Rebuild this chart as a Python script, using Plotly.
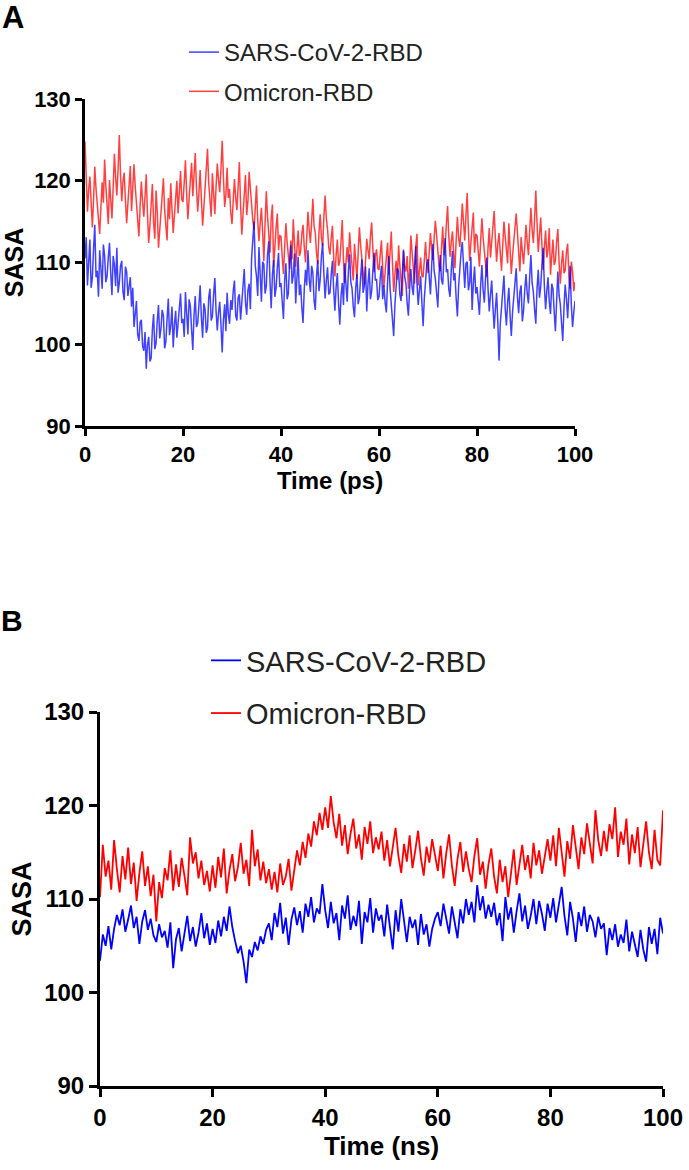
import plotly.graph_objects as go

# ---------------- data ----------------
# Panel A: SASA vs time (ps), one value every 0.25 ps
a_sars = [
    110.5, 113.1, 107.2, 109.9, 112.8, 106.9, 108.1, 111.7, 114.6, 108.2, 109.0, 105.8, 111.5, 109.3, 106.8, 112.2, 110.9, 107.6, 108.3, 110.6,
    112.4, 108.7, 106.0, 110.8, 109.7, 107.1, 111.8, 106.3, 107.5, 109.6, 110.2, 106.4, 105.4, 109.5, 108.9, 105.9, 107.0, 108.2, 104.6, 106.9,
    102.1, 104.4, 105.3, 101.2, 100.4, 102.7, 103.0, 99.8, 99.2, 101.5, 97.0, 99.9, 100.9, 97.9, 98.3, 101.8, 103.7, 99.4, 100.1, 102.9,
    104.8, 100.7, 101.9, 104.2, 103.5, 99.5, 100.3, 103.1, 105.6, 101.1, 102.2, 104.6, 99.6, 102.4, 104.1, 100.8, 102.8, 105.1, 106.2, 102.6,
    103.1, 100.9, 106.4, 103.8, 101.2, 105.5, 104.7, 101.8, 99.3, 103.6, 105.9, 102.1, 102.6, 104.8, 107.2, 103.3, 100.8, 105.0, 104.3, 101.4,
    102.0, 105.7, 106.8, 102.9, 103.4, 106.1, 108.1, 104.0, 101.7, 103.9, 105.2, 102.3, 99.0, 103.0, 104.9, 101.6, 106.3, 103.7, 102.5, 105.4,
    104.2, 106.5, 107.8, 103.5, 102.9, 105.7, 106.1, 103.0, 104.9, 107.5, 109.2, 105.1, 103.6, 106.6, 107.4, 104.3, 110.5, 112.8, 115.0, 109.6,
    108.3, 105.9, 111.9, 108.6, 105.2, 110.1, 109.8, 106.2, 107.1, 110.9, 112.6, 107.7, 104.4, 108.5, 110.3, 105.8, 106.9, 109.4, 111.2, 107.0,
    107.5, 105.2, 103.1, 107.9, 109.9, 105.5, 106.2, 110.0, 112.1, 107.4, 108.4, 111.1, 105.0, 108.1, 110.7, 106.0, 107.3, 104.5, 102.6, 106.8,
    109.1, 107.2, 111.5, 108.0, 106.4, 109.6, 108.8, 105.3, 104.2, 108.3, 110.3, 106.5, 107.9, 110.8, 112.4, 108.6, 105.6, 107.8, 109.4, 106.1,
    106.3, 108.5, 110.2, 106.7, 104.1, 107.0, 108.7, 105.0, 102.4, 105.9, 107.5, 104.8, 109.9, 107.3, 105.2, 108.9, 111.0, 107.6, 106.8, 104.6,
    103.3, 106.9, 108.6, 104.9, 105.7, 108.2, 110.4, 106.3, 107.1, 109.5, 104.0, 107.4, 109.3, 105.5, 106.5, 109.0, 111.2, 107.8, 108.0, 105.4,
    105.8, 108.1, 109.6, 105.5, 107.2, 105.1, 103.9, 107.6, 110.8, 106.9, 104.6, 102.8, 101.0, 104.9, 106.7, 109.3, 108.9, 106.1, 105.3, 108.7,
    111.6, 108.2, 107.4, 105.0, 103.5, 106.8, 109.2, 107.0, 106.0, 109.4, 112.0, 107.5, 104.8, 106.6, 108.3, 105.2, 102.2, 105.6, 107.7, 109.8,
    110.4, 108.2, 106.1, 109.7, 112.3, 109.0, 108.0, 106.3, 104.5, 108.4, 110.9, 107.9, 107.3, 110.5, 113.0, 108.8, 109.2, 106.7, 105.8, 109.1,
    111.4, 107.8, 108.7, 105.6, 103.4, 107.1, 109.8, 111.3, 112.5, 108.5, 106.9, 109.9, 110.1, 106.6, 107.6, 110.7, 104.2, 107.4, 109.5, 106.2,
    107.0, 105.3, 103.6, 107.3, 109.7, 106.6, 105.1, 108.2, 110.6, 106.8, 104.0, 106.1, 107.8, 104.6, 101.9, 104.3, 106.3, 102.7, 98.0, 102.5,
    104.7, 106.6, 108.4, 104.4, 102.3, 105.1, 106.9, 103.5, 101.0, 103.9, 105.5, 107.6, 109.3, 105.8, 103.8, 106.4, 107.2, 102.8, 104.1, 106.7,
    108.6, 106.2, 105.0, 108.3, 110.9, 107.5, 106.4, 104.3, 102.5, 106.8, 109.1, 105.7, 107.0, 109.7, 111.8, 107.1, 104.3, 106.5, 108.2, 105.2,
    103.7, 107.4, 106.8, 104.0, 101.6, 105.3, 108.9, 106.0, 104.9, 102.6, 100.4, 104.5, 107.3, 105.6, 103.2, 106.2, 109.6, 104.8, 102.1, 103.9,
    105.3,
]

a_omicron = [
    124.8, 119.6, 116.2, 118.9, 120.5, 117.4, 114.3, 117.8, 121.7, 119.0, 117.0, 115.2, 113.5, 116.8, 119.8, 117.3, 122.6, 119.4, 116.9, 114.7,
    120.1, 117.7, 115.4, 119.2, 123.3, 120.4, 118.2, 121.4, 125.6, 120.7, 117.5, 119.9, 121.0, 117.6, 114.8, 117.2, 119.6, 121.8, 116.3, 118.7,
    122.0, 119.3, 117.1, 115.0, 113.2, 116.9, 119.9, 117.5, 115.6, 118.1, 120.8, 115.9, 112.4, 114.6, 117.3, 119.6, 114.9, 112.9, 118.8, 116.2,
    111.8, 114.0, 116.5, 118.6, 120.3, 116.4, 114.2, 112.7, 117.9, 115.3, 119.7, 116.6, 113.6, 115.8, 118.4, 120.0, 116.0, 118.0, 121.2, 117.7,
    117.4, 119.8, 122.5, 118.3, 115.3, 117.9, 120.6, 122.2, 118.1, 120.3, 123.4, 119.1, 116.2, 118.5, 121.3, 117.8, 114.5, 116.7, 119.5, 121.9,
    123.9, 119.7, 117.6, 115.6, 120.9, 118.4, 115.9, 119.3, 122.1, 120.1, 118.6, 121.5, 124.9, 120.5, 116.8, 118.2, 121.6, 117.9, 119.0, 116.1,
    114.7, 117.6, 120.2, 118.0, 116.4, 119.3, 122.3, 117.0, 113.4, 115.9, 118.5, 120.7, 115.8, 117.5, 121.1, 118.9, 117.2, 115.1, 114.0, 117.7,
    119.4, 115.2, 112.6, 114.8, 116.7, 113.8, 110.2, 114.9, 118.7, 115.7, 113.1, 111.2, 115.5, 117.1, 109.4, 112.8, 114.3, 116.0, 111.5, 113.3,
    113.2, 110.7, 108.6, 112.0, 114.8, 112.5, 110.9, 109.2, 112.7, 110.4, 115.3, 112.2, 109.5, 111.6, 113.9, 110.8, 111.3, 113.5, 114.6, 111.9,
    110.0, 113.1, 116.2, 114.0, 112.4, 115.0, 117.8, 114.4, 113.6, 111.1, 109.8, 113.7, 115.9, 113.0, 112.0, 115.6, 118.2, 115.4, 114.1, 111.8,
    111.0, 113.0, 114.5, 110.6, 108.3, 110.9, 112.8, 109.6, 110.1, 112.6, 115.2, 110.3, 107.5, 109.9, 111.9, 110.0, 113.7, 111.4, 109.4, 107.8,
    112.3, 110.5, 108.0, 111.2, 114.3, 112.1, 110.7, 108.9, 107.3, 110.2, 112.9, 111.5, 110.4, 113.2, 114.9, 111.7, 108.8, 110.8, 111.6, 109.3,
    109.1, 111.0, 112.7, 109.3, 107.0, 108.8, 110.9, 112.4, 108.5, 110.7, 113.8, 109.9, 106.4, 108.6, 110.2, 107.9, 112.1, 109.7, 107.7, 105.9,
    111.4, 109.5, 108.9, 110.8, 106.8, 109.0, 113.3, 111.1, 109.6, 107.4, 111.9, 113.5, 107.2, 109.2, 110.6, 108.4, 108.2, 110.3, 112.5, 109.8,
    108.7, 111.3, 113.6, 111.7, 110.3, 112.9, 115.1, 113.4, 111.5, 109.6, 108.9, 112.2, 114.4, 110.9, 112.0, 114.7, 116.9, 113.1, 110.7, 112.6,
    113.8, 111.0, 109.3, 112.8, 115.6, 113.0, 111.9, 114.3, 117.2, 114.9, 112.7, 115.8, 118.5, 113.9, 110.2, 112.4, 114.0, 116.1, 111.2, 113.5,
    113.3, 111.6, 109.5, 112.7, 115.4, 113.0, 111.0, 109.7, 108.2, 111.8, 114.2, 110.6, 112.5, 114.5, 116.3, 112.9, 110.1, 112.3, 113.6, 111.2,
    109.0, 112.1, 115.0, 113.2, 111.7, 109.9, 114.8, 112.4, 108.6, 110.8, 112.9, 114.6, 116.0, 113.7, 110.5, 108.9, 113.1, 111.4, 109.8, 112.0,
    114.6, 112.5, 110.9, 113.8, 116.7, 114.0, 112.4, 115.3, 118.8, 114.8, 111.3, 113.4, 115.5, 112.1, 109.1, 111.9, 113.9, 110.6, 111.6, 114.2,
    108.5, 110.7, 112.8, 109.7, 110.2, 112.6, 114.1, 110.0, 107.4, 109.8, 111.5, 108.7, 109.0, 111.3, 112.3, 108.4, 106.8, 110.1, 108.9, 106.5,
    107.6,
]

# Panel B: SASA vs time (ns), one value every 0.5 ns
b_sars = [
    103.4, 106.2, 105.0, 107.1, 104.6, 106.8, 108.3, 107.2, 108.9, 106.5, 107.8, 109.3, 106.9, 108.1, 105.2, 107.6, 108.8, 106.7, 107.9, 106.1,
    105.4, 107.3, 105.9, 106.6, 104.8, 107.5, 102.6, 105.7, 106.9, 104.4, 106.3, 108.2, 105.5, 107.0, 104.9, 106.4, 108.5, 105.8, 107.4, 105.1,
    106.8, 105.3, 107.7, 106.0, 108.1, 106.6, 109.2, 107.0, 105.5, 104.2, 105.0, 103.3, 101.0, 104.6, 103.8, 105.4, 104.5, 106.0, 105.2, 106.7,
    107.4, 105.6, 108.5, 107.0, 109.6, 106.3, 108.0, 105.1, 107.8, 109.1, 107.2, 108.7, 106.4, 109.5, 108.1, 110.2, 107.5, 109.0, 108.4, 111.6,
    108.8, 106.9, 109.7, 107.4, 108.5, 105.6, 109.3, 107.9, 110.4, 106.7, 108.2, 107.1, 109.8, 105.2, 108.6, 107.5, 110.1, 106.4, 109.0, 107.7,
    108.3, 106.0, 109.4, 107.2, 104.6, 108.8, 106.5, 110.0, 107.6, 105.4, 108.1, 106.9, 107.8, 105.1, 108.4, 106.2, 107.3, 104.9, 106.8, 107.9,
    108.6, 107.1, 109.5, 108.0, 106.3, 109.2, 107.7, 105.8, 108.9, 107.4, 110.0, 108.3, 109.7, 107.5, 111.5, 108.8, 110.3, 107.9, 109.4, 108.1,
    109.6, 107.2, 108.5, 105.5, 110.2, 107.8, 109.1, 106.4, 108.7, 110.6, 107.6, 109.3, 106.8, 108.2, 110.0, 107.3, 109.8, 108.4, 106.6, 109.5,
    108.0, 110.1, 107.5, 109.4, 111.3, 108.2, 106.1, 109.7, 107.9, 105.4, 108.6, 107.1, 109.2, 106.5, 108.3, 107.6, 105.9, 108.1, 106.8, 107.4,
    104.0, 106.9, 105.6, 107.3, 104.9, 106.2, 105.3, 107.8, 104.4, 106.5, 105.1, 103.8, 106.7, 104.6, 103.3, 107.0, 105.2, 106.8, 104.1, 108.0,
    106.3,
]

b_omicron = [
    110.2, 115.8, 112.4, 114.1, 111.0, 116.3, 113.2, 110.7, 114.6, 112.1, 115.5, 111.6, 113.9, 109.8, 112.8, 115.1, 111.4, 113.5, 110.3, 112.6,
    107.6, 111.8, 110.1, 113.3, 112.0, 115.2, 110.9, 113.7, 111.3, 114.4, 112.5, 110.4, 116.6, 113.8, 115.0, 112.2, 114.1, 111.5, 113.0, 110.8,
    113.6, 111.2, 114.5, 112.3, 115.4, 110.6, 113.1, 114.8, 111.9, 113.4, 116.0, 112.7, 114.2, 111.4, 117.4, 113.5, 115.3, 112.0, 114.0, 111.7,
    113.2, 111.0, 112.9, 110.7, 113.8, 111.5, 112.4, 114.3, 110.9, 113.0, 115.2, 113.6, 116.1, 114.4, 117.0, 115.6, 118.3, 116.8, 119.2, 117.4,
    119.8, 117.6, 121.0, 118.2, 116.5, 119.1, 115.7, 117.9, 114.8, 117.0, 118.6, 115.4, 116.9, 114.2, 117.7, 115.9, 118.3, 114.9, 116.6, 115.3,
    117.2, 114.1, 116.3, 113.5, 115.8, 117.6, 114.6, 112.8, 115.9, 114.0, 116.8, 113.3, 115.2, 117.3, 114.4, 112.5, 115.6, 113.9, 116.4, 114.7,
    113.0, 115.7, 112.2, 114.9, 116.9, 113.6, 111.4, 114.3, 116.1, 112.9, 115.1, 113.2, 111.8, 114.6, 116.5, 112.6, 114.0, 111.1, 113.7, 115.4,
    112.4, 110.6, 114.2, 111.8, 113.5, 110.2, 112.9, 115.3, 111.5, 113.9, 115.8, 113.1, 114.7, 112.2, 116.0, 113.6, 115.2, 112.7, 114.5, 116.4,
    114.1, 116.8, 113.5, 117.6, 115.0, 112.4, 116.2, 114.3, 117.9, 115.4, 113.2, 116.6, 114.8, 118.1, 115.7, 113.8, 119.5, 116.3, 114.6, 117.3,
    115.1, 118.0, 116.4, 119.8, 114.5, 117.2, 115.8, 118.6, 113.7, 116.9, 114.9, 117.7, 113.4, 116.1, 118.3, 115.0, 113.2, 117.4, 114.2, 113.6,
    119.5,
]

series_names = ["SARS-CoV-2-RBD", "Omicron-RBD"]
x_ticks = [0, 20, 40, 60, 80, 100]
y_ticks = [90, 100, 110, 120, 130]
x_title_a = "Time (ps)"
x_title_b = "Time (ns)"
y_title = "SASA"
panel_labels = ["A", "B"]
T_END = 100.0


def time_axis(values):
    n = len(values)
    return [T_END * i / (n - 1) for i in range(n)]


# ---------------- figure ----------------
W, H = 689, 1170
FONT = "Arial, 'Liberation Sans', Helvetica, sans-serif"


def px_x(p):
    return p / W


def px_y(p):
    return 1 - p / H


fig = go.Figure()

# Red drawn first, blue on top; legend order fixed by legendrank.
fig.add_trace(go.Scatter(x=time_axis(a_omicron), y=a_omicron, mode="lines", name=series_names[1],
                         line=dict(color="rgba(255,0,0,0.75)", width=1.5),
                         xaxis="x", yaxis="y", legend="legend", legendrank=2,
                         legendgroup="a2"))
fig.add_trace(go.Scatter(x=time_axis(a_sars), y=a_sars, mode="lines", name=series_names[0],
                         line=dict(color="rgba(0,0,255,0.75)", width=1.5),
                         xaxis="x", yaxis="y", legend="legend", legendrank=1,
                         legendgroup="a1"))
fig.add_trace(go.Scatter(x=time_axis(b_omicron), y=b_omicron, mode="lines", name=series_names[1],
                         line=dict(color="rgb(255,0,0)", width=1.8),
                         xaxis="x2", yaxis="y2", legend="legend2", legendrank=2,
                         legendgroup="b2"))
fig.add_trace(go.Scatter(x=time_axis(b_sars), y=b_sars, mode="lines", name=series_names[0],
                         line=dict(color="rgb(0,0,255)", width=1.8),
                         xaxis="x2", yaxis="y2", legend="legend2", legendrank=1,
                         legendgroup="b1"))

axis_common = dict(showgrid=False, zeroline=False, showline=True, linecolor="black",
                   ticks="outside", tickcolor="black", fixedrange=True,
                   automargin=False, layer="above traces")

fig.update_layout(
    width=W, height=H,
    margin=dict(l=0, r=0, t=0, b=0, autoexpand=False),
    paper_bgcolor="white", plot_bgcolor="white",
    font=dict(family=FONT, color="black"),
    xaxis=dict(**axis_common, domain=[px_x(85), px_x(575)], range=[0, 100],
               tickvals=x_ticks, linewidth=2.5, tickwidth=2.5, ticklen=7,
               tickfont=dict(family=FONT, size=22, weight="bold"),
               title=dict(text=x_title_a, font=dict(family=FONT, size=24, weight="bold"), standoff=6),
               anchor="y"),
    yaxis=dict(**axis_common, domain=[px_y(426), px_y(99)], range=[90, 130],
               tickvals=y_ticks, linewidth=2.5, tickwidth=2.5, ticklen=7,
               tickfont=dict(family=FONT, size=22, weight="bold"),
               title=dict(text=y_title, font=dict(family=FONT, size=25, weight="bold"), standoff=7),
               anchor="x"),
    xaxis2=dict(**axis_common, domain=[px_x(100), px_x(663)], range=[0, 100],
                tickvals=x_ticks, linewidth=3, tickwidth=3, ticklen=8,
                tickfont=dict(family=FONT, size=24, weight="bold"),
                title=dict(text=x_title_b, font=dict(family=FONT, size=26, weight="bold"), standoff=6),
                anchor="y2"),
    yaxis2=dict(**axis_common, domain=[px_y(1086), px_y(712)], range=[90, 130],
                tickvals=y_ticks, linewidth=3, tickwidth=3, ticklen=8,
                tickfont=dict(family=FONT, size=24, weight="bold"),
                title=dict(text=y_title, font=dict(family=FONT, size=27, weight="bold"), standoff=5),
                anchor="x2"),
    legend=dict(x=px_x(184), y=px_y(30), xanchor="left", yanchor="top",
                font=dict(family=FONT, size=24, color="#222"),
                traceorder="grouped", tracegroupgap=5,
                bgcolor="rgba(0,0,0,0)", borderwidth=0),
    legend2=dict(x=px_x(206), y=px_y(635), xanchor="left", yanchor="top",
                 font=dict(family=FONT, size=29, color="#222"),
                 traceorder="grouped", tracegroupgap=12,
                 bgcolor="rgba(0,0,0,0)", borderwidth=0),
    annotations=[
        dict(text=panel_labels[0], x=px_x(0), y=px_y(-2), xref="paper", yref="paper",
             xanchor="left", yanchor="top", showarrow=False,
             font=dict(family=FONT, size=31, weight="bold", color="black")),
        dict(text=panel_labels[1], x=px_x(-1), y=px_y(602), xref="paper", yref="paper",
             xanchor="left", yanchor="top", showarrow=False,
             font=dict(family=FONT, size=30, weight="bold", color="black")),
    ],
)

fig.write_html("out.html", config={"displayModeBar": False},
               post_script="document.body.style.margin='0';")
